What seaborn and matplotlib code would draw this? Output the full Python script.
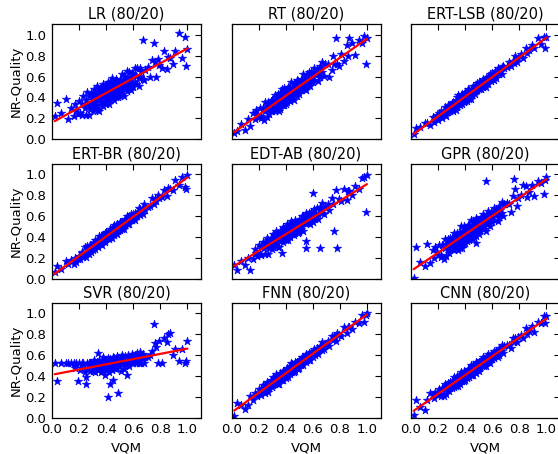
import matplotlib
matplotlib.use("Agg")
import matplotlib.pyplot as plt
import numpy as np
import pandas as pd
import seaborn as sns

# VQM score of each test sequence (hundredths)
vqm = [
    2, 4, 7, 10, 12, 14, 16, 17, 18, 19,
    20, 21, 22, 22, 23, 24, 25, 25, 26, 26, 27, 27, 28, 28, 29, 29,
    30, 30, 30, 31, 31, 31, 32, 32, 32, 33, 33, 33, 34, 34, 34, 35, 35, 35, 35, 36, 36, 36,
    37, 37, 37, 37, 38, 38, 38, 39, 39, 39, 39, 39,
    40, 40, 40, 40, 41, 41, 41, 41, 42, 42, 42, 42, 43, 43, 43, 43, 44, 44, 44, 45, 45, 45, 45,
    46, 46, 46, 47, 47, 47, 47, 48, 48, 48, 49, 49, 49,
    50, 50, 50, 51, 51, 51, 52, 52, 52, 53, 53, 53, 54, 54, 54, 55, 55, 55, 56, 56, 56,
    57, 57, 57, 58, 58, 59, 59,
    60, 60, 61, 61, 62, 62, 63, 64, 64, 65, 65, 66, 67, 67, 68, 69,
    71, 72, 74, 75, 76, 77, 78, 79, 81, 83, 85, 86, 87, 89, 91, 94, 96, 98, 99, 100,
]

# NR-Quality predicted by each model for the same sequences (hundredths)
pred_lr = [
    22, 35, 25, 39, 19, 30, 22, 34, 28, 24,
    37, 25, 23, 34, 41, 30, 23, 38, 34, 45, 23, 41, 32, 29, 44, 34,
    41, 27, 38, 48, 34, 29, 44, 38, 33, 51, 32, 42, 28, 41, 47, 38, 45, 27, 43, 50, 36, 41,
    33, 48, 43, 38, 53, 32, 45, 41, 48, 36, 51, 40,
    39, 51, 45, 34, 47, 55, 41, 38, 51, 45, 34, 50, 55, 44, 38, 49, 41, 59, 48, 41, 52, 45, 55,
    38, 51, 48, 45, 58, 40, 50, 56, 44, 52, 40, 55, 51,
    57, 47, 41, 56, 53, 45, 62, 47, 52, 61, 51, 41, 57, 60, 50, 46, 65, 56, 50, 60, 53,
    64, 49, 56, 59, 47, 63, 54,
    62, 50, 68, 55, 61, 53, 68, 59, 51, 68, 61, 65, 58, 95, 57, 66,
    69, 60, 76, 92, 74, 60, 77, 71, 68, 84, 67, 79, 78, 72, 84, 102, 78, 98, 70, 86,
]
pred_rt = [
    6, 8, 15, 9, 19, 13, 25, 19, 28, 24,
    21, 30, 20, 22, 30, 18, 36, 27, 32, 21, 28, 36, 32, 24, 27, 37,
    30, 38, 27, 36, 32, 35, 27, 42, 31, 36, 40, 29, 36, 32, 43, 39, 27, 40, 35, 44, 39, 29,
    41, 34, 48, 35, 39, 44, 33, 38, 49, 42, 33, 44,
    42, 45, 34, 44, 39, 47, 43, 36, 50, 41, 43, 46, 37, 50, 43, 48, 40, 46, 55, 42, 48, 40, 45,
    54, 50, 38, 48, 53, 43, 45, 57, 51, 41, 51, 56, 46,
    48, 55, 43, 54, 51, 47, 58, 51, 56, 50, 55, 62, 48, 52, 59, 58, 47, 54, 62, 56, 53,
    64, 52, 58, 62, 51, 56, 64,
    61, 55, 68, 57, 64, 62, 67, 56, 62, 70, 60, 67, 64, 74, 61, 72,
    72, 60, 66, 80, 72, 97, 72, 70, 82, 75, 90, 80, 97, 92, 81, 95, 92, 99, 72, 97,
]
pred_ert_lsb = [
    5, 11, 12, 16, 16, 14, 21, 17, 20, 23,
    18, 25, 27, 22, 20, 26, 31, 24, 27, 22, 33, 26, 31, 32, 27, 31,
    29, 35, 31, 27, 34, 36, 30, 33, 35, 28, 37, 33, 40, 34, 31, 37, 34, 42, 35, 33, 39, 37,
    41, 35, 37, 39, 34, 43, 37, 40, 38, 43, 36, 41,
    43, 37, 40, 45, 40, 37, 43, 44, 40, 43, 48, 41, 39, 44, 47, 42, 47, 39, 44, 48, 43, 46, 42,
    51, 45, 46, 49, 43, 51, 47, 46, 50, 47, 54, 47, 49,
    48, 52, 55, 49, 51, 54, 48, 54, 52, 50, 54, 58, 53, 51, 56, 59, 50, 54, 58, 54, 57,
    53, 60, 57, 57, 62, 56, 60,
    58, 63, 57, 62, 61, 65, 59, 64, 68, 62, 65, 64, 69, 62, 70, 68,
    69, 74, 70, 75, 73, 80, 74, 78, 82, 78, 87, 83, 85, 90, 87, 97, 91, 98, 87, 98,
]
pred_ert_br = [
    6, 12, 9, 17, 14, 18, 14, 20, 16, 19,
    22, 19, 26, 25, 21, 30, 21, 26, 25, 31, 29, 24, 27, 32, 32, 26,
    32, 27, 34, 30, 33, 30, 37, 28, 34, 33, 31, 37, 35, 37, 30, 34, 41, 33, 36, 33, 36, 41,
    36, 40, 32, 40, 39, 36, 42, 41, 35, 39, 44, 37,
    40, 38, 45, 39, 44, 39, 41, 45, 38, 44, 42, 41, 48, 40, 44, 41, 47, 44, 39, 47, 44, 49, 46,
    42, 44, 51, 47, 44, 50, 49, 43, 47, 52, 48, 46, 51,
    51, 47, 54, 50, 51, 54, 48, 53, 50, 55, 52, 48, 57, 55, 51, 53, 60, 56, 52, 56, 58,
    52, 60, 56, 56, 62, 60, 56,
    59, 62, 56, 63, 60, 62, 60, 68, 64, 61, 67, 65, 68, 62, 71, 66,
    69, 70, 77, 71, 76, 74, 80, 77, 78, 85, 79, 87, 86, 85, 94, 90, 97, 88, 86, 99,
]
pred_edt_ab = [
    13, 8, 17, 13, 20, 8, 19, 28, 25, 22,
    32, 24, 23, 30, 35, 29, 24, 34, 31, 39, 24, 37, 31, 29, 39, 33,
    38, 28, 36, 43, 33, 30, 41, 36, 33, 46, 33, 39, 30, 39, 44, 38, 42, 30, 41, 46, 36, 40,
    25, 45, 42, 38, 49, 35, 44, 41, 46, 38, 48, 40,
    40, 49, 44, 37, 46, 52, 42, 40, 49, 45, 37, 48, 52, 45, 40, 48, 43, 55, 48, 43, 51, 46, 53,
    42, 50, 48, 47, 56, 44, 50, 54, 47, 52, 44, 54, 52,
    56, 49, 45, 56, 53, 48, 60, 50, 53, 60, 53, 46, 57, 59, 53, 36, 63, 29, 53, 60, 55,
    63, 53, 57, 60, 52, 64, 57,
    82, 54, 67, 59, 63, 57, 68, 62, 57, 69, 29, 67, 63, 72, 62, 69,
    71, 66, 77, 71, 46, 85, 29, 76, 74, 86, 75, 84, 84, 80, 89, 86, 96, 97, 64, 99,
]
pred_gpr = [
    1, 30, 16, 12, 33, 15, 27, 20, 30, 26,
    23, 32, 21, 23, 32, 19, 38, 29, 33, 22, 29, 38, 34, 25, 28, 39,
    30, 39, 28, 38, 33, 36, 27, 44, 32, 37, 41, 29, 36, 33, 44, 40, 27, 41, 36, 45, 40, 29,
    42, 34, 50, 35, 29, 45, 33, 38, 50, 42, 33, 45,
    43, 46, 34, 44, 39, 48, 44, 36, 51, 41, 44, 46, 37, 51, 43, 48, 40, 47, 56, 42, 49, 40, 45,
    55, 51, 38, 48, 53, 43, 45, 58, 34, 41, 51, 56, 46,
    48, 56, 43, 54, 51, 46, 59, 51, 56, 49, 54, 62, 48, 51, 59, 93, 46, 54, 62, 56, 52,
    65, 52, 58, 61, 50, 56, 64,
    61, 54, 68, 56, 64, 61, 67, 55, 62, 70, 59, 66, 63, 73, 60, 71,
    72, 71, 64, 79, 95, 86, 70, 77, 80, 90, 89, 78, 83, 90, 79, 93, 92, 81, 94, 97,
]
pred_svr = [
    52, 35, 52, 52, 52, 52, 52, 48, 52, 35,
    52, 46, 52, 48, 52, 44, 39, 32, 52, 47, 52, 50, 45, 52, 49, 52,
    52, 48, 45, 52, 50, 55, 52, 47, 44, 52, 49, 53, 52, 46, 62, 52, 48, 55, 51, 52, 44, 50,
    52, 47, 53, 49, 52, 45, 58, 52, 50, 41, 55, 52,
    52, 49, 55, 46, 52, 20, 51, 57, 52, 47, 44, 53, 52, 49, 56, 32, 52, 46, 50, 58, 52, 36, 54,
    52, 48, 57, 56, 53, 52, 47, 55, 52, 59, 24, 50, 53,
    52, 55, 49, 58, 52, 45, 53, 60, 52, 47, 56, 52, 59, 50, 53, 52, 57, 41, 55, 52, 60,
    49, 54, 52, 58, 56, 52, 61,
    52, 57, 60, 54, 52, 58, 62, 55, 52, 59, 63, 52, 57, 61, 52, 58,
    58, 60, 64, 90, 71, 68, 52, 73, 52, 76, 72, 80, 81, 60, 66, 54, 66, 52, 54, 73,
]
pred_fnn = [
    2, 14, 12, 8, 12, 21, 17, 24, 22, 21,
    27, 23, 22, 27, 31, 27, 24, 31, 29, 34, 25, 33, 30, 28, 36, 31,
    35, 29, 34, 39, 33, 31, 38, 35, 33, 42, 33, 37, 32, 38, 40, 37, 40, 32, 39, 43, 37, 39,
    36, 42, 40, 38, 45, 36, 42, 41, 44, 39, 45, 40,
    40, 46, 43, 38, 45, 48, 42, 41, 47, 44, 39, 46, 49, 45, 42, 47, 44, 52, 47, 44, 49, 46, 51,
    44, 49, 48, 48, 53, 45, 50, 53, 48, 51, 47, 53, 52,
    55, 50, 48, 55, 53, 50, 58, 52, 54, 58, 54, 50, 57, 58, 54, 53, 61, 57, 55, 59, 57,
    62, 55, 58, 61, 55, 63, 59,
    63, 58, 66, 61, 64, 60, 67, 64, 61, 69, 66, 68, 65, 72, 66, 70,
    73, 69, 78, 74, 78, 73, 81, 79, 78, 87, 81, 87, 87, 85, 92, 91, 98, 92, 98, 100,
]
pred_cnn = [
    3, 17, 10, 7, 17, 24, 22, 19, 25, 23,
    22, 27, 21, 23, 28, 21, 32, 27, 30, 23, 28, 33, 31, 26, 28, 34,
    30, 35, 28, 35, 32, 34, 29, 39, 32, 35, 37, 30, 35, 33, 40, 38, 30, 38, 35, 41, 38, 32,
    39, 35, 44, 36, 39, 42, 35, 38, 45, 40, 35, 42,
    41, 43, 36, 42, 39, 44, 42, 38, 47, 41, 42, 44, 39, 47, 42, 45, 41, 45, 50, 43, 47, 41, 44,
    50, 48, 41, 47, 50, 44, 45, 53, 49, 43, 49, 52, 46,
    48, 53, 45, 52, 51, 48, 55, 51, 54, 50, 53, 58, 49, 52, 56, 56, 49, 53, 59, 55, 53,
    61, 53, 57, 59, 52, 56, 61,
    59, 56, 64, 57, 62, 61, 64, 58, 62, 67, 60, 65, 64, 70, 62, 69,
    70, 70, 67, 76, 72, 76, 72, 77, 79, 76, 86, 80, 83, 88, 82, 92, 91, 97, 91, 97,
]

model_names = ["LR", "RT", "ERT-LSB", "ERT-BR", "EDT-AB", "GPR", "SVR", "FNN", "CNN"]
predictions = [pred_lr, pred_rt, pred_ert_lsb, pred_ert_br, pred_edt_ab,
               pred_gpr, pred_svr, pred_fnn, pred_cnn]
split_label = "80/20"
tick_values = [0.0, 0.2, 0.4, 0.6, 0.8, 1.0]
x_label = "VQM"
y_label = "NR-Quality"

sns.set_theme(style="white", rc={
    "axes.edgecolor": "black",
    "axes.linewidth": 0.9,
    "xtick.color": "black",
    "ytick.color": "black",
    "text.color": "black",
    "axes.labelcolor": "black",
})
plt.rcParams["font.family"] = ["DejaVu Sans"]

W, H = 558, 454
fig = plt.figure(figsize=(W / 100, H / 100), dpi=100)
fig.patch.set_facecolor("white")

col_left = [52, 231.5, 411]
row_top = [24.3, 163.7, 302.7]
ax_w, ax_h = 149, 115

for i, (name, pred) in enumerate(zip(model_names, predictions)):
    r, c = divmod(i, 3)
    ax = fig.add_axes([col_left[c] / W, 1 - (row_top[r] + ax_h) / H, ax_w / W, ax_h / H])
    frame = pd.DataFrame({"vqm": np.array(vqm) / 100, "pred": np.array(pred) / 100})
    sns.regplot(data=frame, x="vqm", y="pred", ax=ax, ci=None, marker="*",
                color="blue",
                scatter_kws=dict(s=40, edgecolors="blue", linewidths=0.4, alpha=1, zorder=2),
                line_kws=dict(color="red", lw=1.6, zorder=3))
    ax.set_xlim(0, 1.1)
    ax.set_ylim(0, 1.1)
    ax.set_xticks(tick_values)
    ax.set_yticks(tick_values)
    ax.tick_params(direction="in", top=True, right=True, length=4, width=0.8,
                   labelsize=9.5, pad=4,
                   labelbottom=(r == 2), labelleft=(c == 0))
    ax.set_title(f"{name} ({split_label})", fontsize=10.5, pad=4)
    ax.set_xlabel(x_label if r == 2 else "", fontsize=9.5, labelpad=4)
    ax.set_ylabel(y_label if c == 0 else "", fontsize=9.5, labelpad=2)
    for sp in ax.spines.values():
        sp.set_visible(True)
        sp.set_color("black")

fig.savefig("out.png", dpi=100, facecolor="white")
